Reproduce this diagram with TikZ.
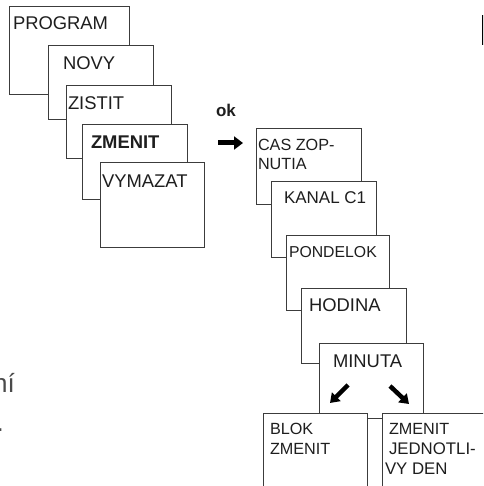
\documentclass[tikz,border=0pt]{standalone}
\usepackage{fontspec}
\setmainfont{Liberation Sans}
\usetikzlibrary{arrows.meta}
\definecolor{ln}{HTML}{3C3C3C}
\definecolor{tx}{HTML}{1E1E1E}
\definecolor{gr}{HTML}{4A4A4A}
\begin{document}
\begin{tikzpicture}[x=1pt,y=-1pt,
  box/.style={draw=ln, line width=1pt, fill=white, inner sep=0pt, outer sep=0pt, anchor=north west},
  lbl/.style={anchor=base west, inner sep=0pt, outer sep=0pt, text=tx},
  big/.style={font=\fontsize{18.4}{22}\selectfont},
  mid/.style={font=\fontsize{16.2}{19}\selectfont},
  fat/.style={line width=4.5pt, draw=black, -{Triangle[length=9pt,width=12pt]}}]
\useasboundingbox (0,0) rectangle (483,486);
\clip (0,0) rectangle (483,486);
% left stack
\node[box, minimum width=120pt, minimum height=88pt] (program) at (9,7) {};
\node[lbl, big] (tprogram) at (13,30) {PROGRAM};
\node[box, minimum width=105pt, minimum height=74pt] (novy) at (48,46) {};
\node[lbl, big] (tnovy) at (63,70) {NOVY};
\node[box, minimum width=105pt, minimum height=73pt] (zistit) at (66,86) {};
\node[lbl, big] (tzistit) at (68,110) {ZISTIT};
\node[box, minimum width=105pt, minimum height=74pt] (zmenit) at (82,125) {};
\node[lbl, big, font=\fontsize{18.4}{22}\selectfont\bfseries] (tzmenit) at (91,149) {ZMENIT};
\node[box, minimum width=104pt, minimum height=84pt] (vymazat) at (100,163) {};
\node[lbl, big] (tvymazat) at (102,187) {VYMAZAT};
% ok arrow
\node[lbl, font=\fontsize{17}{20}\selectfont\bfseries] (ok) at (216,117) {ok};
\coordinate (okA) at (218,143);
\coordinate (okB) at (243,143);
\draw[line width=5pt, -{Triangle[length=9pt,width=13pt]}] (okA) -- (okB);
% right stack
\node[box, minimum width=105pt, minimum height=75pt] (cas) at (256,129) {};
\node[lbl, mid] (tcas1) at (258,151) {CAS ZOP-};
\node[lbl, mid] (tcas2) at (258,170) {NUTIA};
\node[box, minimum width=105pt, minimum height=75pt] (kanal) at (271,182) {};
\node[lbl, font=\fontsize{17}{20}\selectfont] (tkanal) at (284,204) {KANAL C1};
\node[box, minimum width=103pt, minimum height=75pt] (pondelok) at (286,235) {};
\node[lbl, font=\fontsize{15.8}{19}\selectfont] (tpondelok) at (289,257) {PONDELOK};
\node[box, minimum width=105pt, minimum height=75pt] (hodina) at (301,288) {};
\node[lbl, big] (thodina) at (309,311) {HODINA};
\node[box, minimum width=104pt, minimum height=75pt] (minuta) at (319,343) {};
\node[lbl, big] (tminuta) at (333,367) {MINUTA};
\coordinate (sw1) at (348,385);
\coordinate (sw2) at (330,403);
\coordinate (se1) at (390,386);
\coordinate (se2) at (409,404);
\draw[fat] (sw1) -- (sw2);
\draw[fat] (se1) -- (se2);
\node[box, minimum width=104pt, minimum height=85pt] (blok) at (263,413) {};
\node[lbl, mid] (tblok1) at (270,434) {BLOK};
\node[lbl, mid] (tblok2) at (270,454) {ZMENIT};
\node[box, minimum width=110pt, minimum height=85pt] (jedn) at (382,413) {};
\node[lbl, mid] (tj1) at (389,434) {ZMENIT};
\node[lbl, font=\fontsize{16.8}{19}\selectfont] (tj2) at (389,454) {JEDNOTLI-};
\node[lbl, font=\fontsize{16.8}{19}\selectfont] (tj3) at (385,474) {VY DEN};
% cut-off page fragments
\node[anchor=base east, inner sep=0pt, text=gr, font=\fontsize{26}{30}\selectfont] (ni) at (15,392) {ní};
\node[anchor=base east, inner sep=0pt, text=gr, font=\fontsize{26}{30}\selectfont] (dot) at (4,431) {.};
\coordinate (vl1) at (482.5,15);
\coordinate (vl2) at (482.5,45);
\draw[line width=2pt] (vl1) -- (vl2);
\end{tikzpicture}
\end{document}
